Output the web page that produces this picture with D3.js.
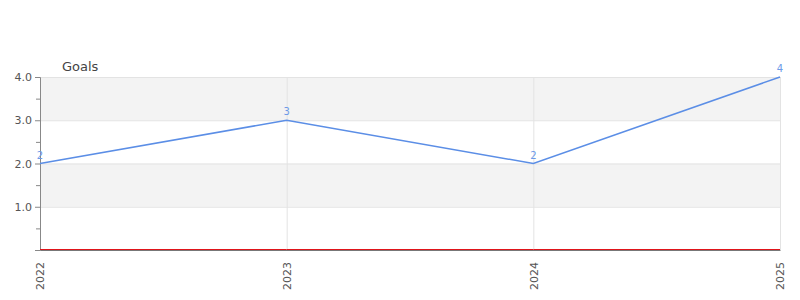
<html><head>
<script src="https://d3js.org/d3.v7.min.js"></script>
<style>
  body { margin: 0; background: #fff; }
  svg text { font-family: "DejaVu Sans", sans-serif; }
  .grid line { stroke: #e3e3e3; }
  .grid .domain { stroke: none; }
</style>
</head>
<body>
<svg id="chart" width="800" height="300"></svg>
<script>
const years = ["2022", "2023", "2024", "2025"];
const goals = [2, 3, 2, 4];
const baseline = [0, 0, 0, 0];
const yTicks = [1, 2, 3, 4];
const yMinor = [0, 0.5, 1.5, 2.5, 3.5];
const bands = [[1, 2], [3, 4]];

let svg = d3.select("#chart");
let margin = {top: 77, right: 20, bottom: 50, left: 40};
let chartWidth = 800 - margin.left - margin.right;
let chartHeight = 300 - margin.top - margin.bottom;

const xScale = d3.scalePoint().domain(years).range([0, chartWidth]);
const yScale = d3.scaleLinear().domain([0, 4]).range([chartHeight, 0]);

let g = svg.append("g").attr("transform", "translate(" + margin.left + "," + margin.top + ")");

// shaded bands
g.selectAll("rect.band").data(bands).join("rect")
  .attr("class", "band")
  .attr("x", 0)
  .attr("width", chartWidth)
  .attr("y", d => yScale(d[1]))
  .attr("height", d => yScale(d[0]) - yScale(d[1]))
  .attr("fill", "#f3f3f3");

// horizontal gridlines
g.append("g").attr("class", "grid")
  .call(d3.axisLeft(yScale).tickValues(yTicks).tickSize(-chartWidth).tickFormat(""));

// vertical gridlines
g.append("g").attr("class", "grid")
  .attr("transform", "translate(0," + chartHeight + ")")
  .call(d3.axisBottom(xScale).tickSize(-chartHeight).tickFormat(""));

// y axis
let yAxis = g.append("g")
  .call(d3.axisLeft(yScale).tickValues(yTicks).tickSize(5).tickFormat(d3.format(".1f")));
yAxis.select(".domain").attr("stroke", "#888");
yAxis.selectAll(".tick line").attr("stroke", "#888");
yAxis.selectAll("text").attr("fill", "#555").style("font-size", "11px").attr("x", -8);

g.append("g")
  .call(d3.axisLeft(yScale).tickValues(yMinor).tickSize(4).tickFormat(""))
  .call(a => a.select(".domain").remove())
  .selectAll("line").attr("stroke", "#888");

// x axis
let xAxis = g.append("g")
  .attr("transform", "translate(0," + chartHeight + ")")
  .call(d3.axisBottom(xScale).tickSize(0));
xAxis.select(".domain").attr("stroke", "#777").attr("stroke-width", 1);
xAxis.selectAll("text")
  .attr("fill", "#555")
  .style("font-size", "11px")
  .attr("transform", "rotate(-90)")
  .attr("x", -12)
  .attr("y", 0)
  .attr("dy", "0.35em")
  .style("text-anchor", "end");

// lines
let line = d3.line()
  .x((d, i) => xScale(years[i]))
  .y(d => yScale(d));

g.append("path").datum(baseline)
  .attr("d", line)
  .attr("fill", "none")
  .attr("stroke", "#e0141a")
  .attr("stroke-width", 1)
  .attr("transform", "translate(0,-0.5)");

g.append("path").datum(goals)
  .attr("d", line)
  .attr("fill", "none")
  .attr("stroke", "#5b8ee6")
  .attr("stroke-width", 1.5);

g.selectAll("text.val").data(goals).join("text")
  .attr("class", "val")
  .attr("x", (d, i) => xScale(years[i]))
  .attr("y", d => yScale(d) - 5)
  .attr("text-anchor", "middle")
  .attr("fill", "#6d9ae8")
  .style("font-size", "10px")
  .text(d => d);

// title
svg.append("text")
  .attr("x", 62)
  .attr("y", 71)
  .attr("fill", "#444")
  .style("font-size", "13px")
  .text("Goals");
</script>
</body>
</html>
